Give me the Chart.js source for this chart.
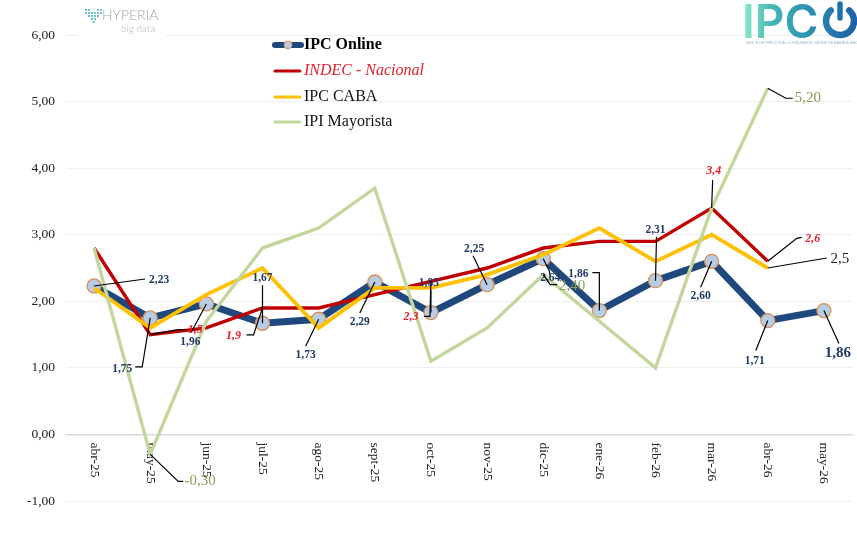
<!DOCTYPE html>
<html><head><meta charset="utf-8">
<script src="https://cdn.jsdelivr.net/npm/chart.js@4"></script>
<style>html,body{margin:0;padding:0;background:#fff}#w{width:857px;height:546px;position:relative}</style>
</head><body><div id="w"><canvas id="c"></canvas></div>
<script>
const categories = ['abr-25','may-25','jun-25','jul-25','ago-25','sept-25','oct-25','nov-25','dic-25','ene-26','feb-26','mar-26','abr-26','may-26'];
const ipcOnline = [2.23,1.75,1.96,1.67,1.73,2.29,1.83,2.25,2.64,1.86,2.31,2.60,1.71,1.86];
const indecNacional = [2.8,1.5,1.6,1.9,1.9,2.1,2.3,2.5,2.8,2.9,2.9,3.4,2.6];
const ipcCaba = [2.2,1.6,2.1,2.5,1.6,2.2,2.2,2.4,2.7,3.1,2.6,3.0,2.5];
const ipiMayorista = [2.8,-0.3,1.7,2.8,3.1,3.7,1.1,1.6,2.4,1.7,1.0,3.4,5.2];
const yTicks = [-1,0,1,2,3,4,5,6];

const SERIF = '"Liberation Serif"';
const NAVY='#1F3864', RED='#E3212B', OLIVE='#8C9C55';
const styleOn = {font:`bold 11.5px ${SERIF}`,color:NAVY,dec:2};
const styleRed = {font:`italic bold 12px ${SERIF}`,color:RED,dec:1};

// value callouts: series, index, text offset from the point, leader bends offset from the point
const onlineNotes = [
 [0,65,-6,[[51,-7]]],[1,-28,51,[[-8,49],[-15,49]]],[2,-16,38,[[-15,28]]],[3,0,-45,[[0,-38]]],
 [4,-13,36,[[-13,27]]],[5,-15,40,[[-15,31]]],[6,-2,-30,[[0,-22]]],[7,-13,-36,[[-14,-29]]],
 [8,7,19,[[6,12],[7,17]]],[9,-21,-37,[[0,-38],[-7,-38]]],[10,0,-51,[[1,-44]]],[11,-11,35,[[-11,26]]],
 [12,-13,40,[[-12,30]]]
];
const onlineLast = [13,14,43,[[15,33]]];
const indecNotes = [[1,45,-5,[[28,-5],[35,-5]]],[3,-29,28,[[-9,27],[-16,27]]],[6,-20,36,[[-1,35],[-7,35]]],[11,2,-37,[[1,-28]]],[12,45,-22,[[29,-23],[34,-24]]]];
const cabaNotes = [[12,72,-9,[[59,-10]]]];
const ipiNotes = [[1,50,27,[[28,27],[33,27]]],[8,29,11,[[7,10],[14,10]]],[12,40,10,[[18,10],[25,10]]]];

const fmt=(v,d)=>v.toFixed(d).replace('.',',');

const overlay = {
 id:'overlay',
 beforeDatasetsDraw(ch){
  const g=ch.ctx; g.save();
  g.fillStyle='#fff'; g.fillRect(78,25,88,14);
  // HYPERIA logo
  const dots=[[85,9],[88,9],[97,9],[100,9],[85,12],[88,12],[91,12],[94,12],[97,12],[100,12],[88,15],[91,15],[94,15],[97,15],[91,18],[94,18],[92.5,21]];
  g.fillStyle='#6CC3CC'; dots.forEach(d=>g.fillRect(d[0],d[1],2,2));
  g.textBaseline='alphabetic'; g.textAlign='left';
  g.fillStyle='#9AA3A8'; g.font='300 14px Lato'; g.fillText('HYPERIA',102,20);
  g.fillStyle='#B0B6BA'; g.font='300 10px Lato'; g.fillText('big data',121,32);
  // IPC logo
  const gr=g.createLinearGradient(745,0,857,0);
  gr.addColorStop(0,'#84E6C8'); gr.addColorStop(.25,'#45B5B5'); gr.addColorStop(.6,'#2A8DB0'); gr.addColorStop(1,'#1F5FA8');
  g.fillStyle=gr; g.strokeStyle=gr; g.font='600 46px Inter'; g.fillText('IPC',742,38);
  g.lineWidth=6.5; g.lineCap='round';
  g.beginPath(); g.arc(840,21,14,-Math.PI*0.27,Math.PI*1.27); g.stroke();
  g.lineWidth=5.5; g.beginPath(); g.moveTo(840,4); g.lineTo(840,18); g.stroke();
  g.fillStyle='#8FB3C4'; g.font='3.6px "Liberation Sans"'; g.textAlign='left';
  g.fillText('INDICE DE PRECIOS AL CONSUMIDOR ONLINE DE BAHIA BLANCA',746,44);
  g.restore();
 },
 afterDatasetsDraw(ch){
  const g=ch.ctx,{x:xs,y:ys}=ch.scales; g.save();
  const note=(arr,vals,st)=>arr.forEach(([i,tx,ty,bends])=>{
    const px=xs.getPixelForValue(i),py=ys.getPixelForValue(vals[i]);
    g.strokeStyle='#000'; g.lineWidth=1.2; g.beginPath(); g.moveTo(px,py);
    bends.forEach(b=>g.lineTo(px+b[0],py+b[1])); g.stroke();
    g.font=st.font; g.fillStyle=st.color; g.textAlign='center'; g.textBaseline='middle';
    g.fillText(fmt(vals[i],st.dec),px+tx,py+ty);
  });
  note(onlineNotes,ipcOnline,styleOn);
  note([onlineLast],ipcOnline,{font:`bold 15px ${SERIF}`,color:NAVY,dec:2});
  note(indecNotes,indecNacional,styleRed);
  note(cabaNotes,ipcCaba,{font:`15px ${SERIF}`,color:'#222',dec:1});
  note(ipiNotes,ipiMayorista,{font:`15px ${SERIF}`,color:OLIVE,dec:2});
  // legend
  const leg=[[45,ch.data.datasets[0],`bold 16px ${SERIF}`,'#000'],[71,ch.data.datasets[1],`italic 16px ${SERIF}`,'#E3212B'],[97,ch.data.datasets[2],`16px ${SERIF}`,'#111'],[122,ch.data.datasets[3],`16px ${SERIF}`,'#111']];
  leg.forEach(([y,d,f,c],k)=>{
    g.strokeStyle=d.borderColor; g.lineWidth=k?3:6; g.lineCap='round';
    g.beginPath(); g.moveTo(275,y); g.lineTo(k?300:301,y); g.stroke();
    if(!k){g.beginPath();g.arc(288,y,4,0,Math.PI*2);g.fillStyle=d.pointBackgroundColor;g.fill();g.lineWidth=1;g.strokeStyle=d.pointBorderColor;g.stroke();}
    g.font=f; g.fillStyle=c; g.textAlign='left'; g.textBaseline='middle'; g.fillText(d.label,304,y);
  });
  g.restore();
 }
};

new Chart(document.getElementById('c'),{
 type:'line',
 data:{labels:categories,datasets:[
  {label:'IPC Online',data:ipcOnline,borderColor:'#1F497D',borderWidth:7,pointRadius:7,pointBackgroundColor:'#B8CCE4',pointBorderColor:'#D98E55',pointBorderWidth:1.3,order:4,borderJoinStyle:'miter'},
  {label:'INDEC - Nacional',data:indecNacional,borderColor:'#C00000',borderWidth:3.4,pointRadius:0,order:3,borderJoinStyle:'miter'},
  {label:'IPC CABA',data:ipcCaba,borderColor:'#FFC000',borderWidth:3.8,pointRadius:0,order:2,borderJoinStyle:'miter'},
  {label:'IPI Mayorista',data:ipiMayorista,borderColor:'#C3D69B',borderWidth:3.4,pointRadius:0,order:1,borderJoinStyle:'miter'}
 ]},
 options:{
  responsive:true,maintainAspectRatio:false,animation:false,devicePixelRatio:1,
  layout:{autoPadding:false,padding:{left:0,top:35,right:5,bottom:45}},
  plugins:{legend:{display:false},tooltip:{enabled:false},title:{display:false}},
  elements:{line:{tension:0}},
  scales:{
   x:{type:'category',position:{y:0},offset:true,
      grid:{display:false,drawTicks:false,offset:true},border:{color:'#D9D9D9',width:1.5},
      ticks:{autoSkip:false,minRotation:-90,maxRotation:-90,padding:8,labelOffset:0,color:'#222',font:{family:'Liberation Serif',size:13.5}},
      afterFit(s){s._getXAxisLabelAlignment=()=>'left';s.paddingLeft=0;s.paddingRight=0;}},
   y:{min:-1,max:6,afterBuildTicks(s){s.ticks=yTicks.map(v=>({value:v}));},
      grid:{color:'#EEEEEE',lineWidth:1,drawTicks:false},border:{display:false},
      afterFit(s){s.width=66;},
      ticks:{padding:11,color:'#222',font:{family:'Liberation Serif',size:13.5},callback:v=>fmt(v,2)}}
  }
 },
 plugins:[overlay]
});
</script></body></html>
